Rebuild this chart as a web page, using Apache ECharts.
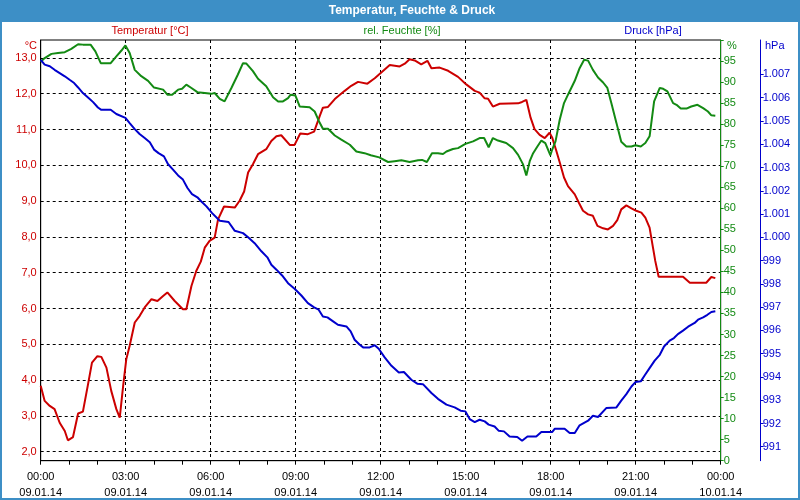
<!DOCTYPE html>
<html>
<head>
<meta charset="utf-8">
<script src="https://cdn.jsdelivr.net/npm/echarts@6/dist/echarts.min.js"></script>
<style>
  html, body { margin: 0; padding: 0; background: #fff; }
  #chart { width: 800px; height: 500px; }
</style>
</head>
<body>
<div id="chart"></div>
<script>
// Stunden seit 09.01.14 00:00
const tempHours = [0, 0.14, 0.32, 0.49, 0.67, 0.85, 0.96, 1.14, 1.32, 1.49, 1.67, 1.81, 2.0, 2.14, 2.32, 2.49, 2.67, 2.79, 2.91, 3.02, 3.14, 3.32, 3.49, 3.67, 3.91, 4.12, 4.32, 4.47, 4.73, 5.02, 5.14, 5.32, 5.49, 5.65, 5.79, 5.96, 6.14, 6.26, 6.47, 6.85, 7.02, 7.18, 7.32, 7.49, 7.67, 7.96, 8.14, 8.32, 8.49, 8.79, 8.96, 9.16, 9.43, 9.65, 9.85, 9.96, 10.14, 10.38, 10.73, 10.96, 11.2, 11.53, 11.79, 12.05, 12.32, 12.67, 12.85, 13.02, 13.2, 13.43, 13.65, 13.79, 14.08, 14.38, 14.73, 15.02, 15.32, 15.49, 15.67, 15.79, 15.96, 16.2, 16.85, 16.99, 17.14, 17.29, 17.43, 17.61, 17.79, 17.96, 18.05, 18.2, 18.32, 18.47, 18.61, 18.85, 18.99, 19.14, 19.32, 19.49, 19.65, 19.85, 20.02, 20.2, 20.35, 20.49, 20.67, 20.85, 21.02, 21.2, 21.34, 21.49, 21.61, 21.69, 21.81, 22.67, 22.91, 23.49, 23.67, 23.81]
const tempValues = [3.84, 3.42, 3.28, 3.19, 2.81, 2.58, 2.32, 2.41, 3.07, 3.12, 3.88, 4.49, 4.67, 4.65, 4.35, 3.70, 3.19, 2.95, 3.84, 4.58, 4.96, 5.61, 5.79, 6.03, 6.26, 6.21, 6.35, 6.45, 6.21, 5.98, 5.98, 6.63, 7.05, 7.31, 7.70, 7.89, 7.98, 8.49, 8.85, 8.82, 9.01, 9.27, 9.80, 10.03, 10.31, 10.45, 10.68, 10.81, 10.84, 10.57, 10.57, 10.89, 10.87, 10.94, 11.38, 11.61, 11.63, 11.85, 12.08, 12.22, 12.33, 12.28, 12.43, 12.61, 12.80, 12.76, 12.84, 12.96, 12.93, 12.82, 12.92, 12.71, 12.73, 12.64, 12.47, 12.26, 12.08, 12.03, 11.87, 11.86, 11.64, 11.72, 11.73, 11.77, 11.83, 11.33, 11.01, 10.85, 10.76, 10.91, 10.78, 10.40, 10.08, 9.66, 9.42, 9.19, 8.96, 8.73, 8.63, 8.59, 8.31, 8.24, 8.21, 8.31, 8.47, 8.77, 8.88, 8.80, 8.73, 8.68, 8.54, 8.26, 7.70, 7.33, 6.89, 6.89, 6.72, 6.72, 6.88, 6.85]

const humHours = [0, 0.14, 0.38, 0.61, 0.85, 1.08, 1.32, 1.49, 1.76, 1.93, 2.12, 2.47, 2.67, 2.85, 2.99, 3.14, 3.32, 3.55, 3.79, 4.0, 4.32, 4.47, 4.64, 4.85, 4.99, 5.14, 5.32, 5.53, 5.79, 6.02, 6.14, 6.32, 6.49, 6.73, 6.96, 7.14, 7.26, 7.49, 7.67, 7.96, 8.2, 8.38, 8.55, 8.73, 8.82, 8.99, 9.14, 9.49, 9.67, 9.82, 9.96, 10.14, 10.38, 10.61, 10.91, 11.14, 11.43, 11.65, 11.95, 12.26, 12.49, 12.73, 13.02, 13.32, 13.46, 13.63, 13.81, 14.02, 14.2, 14.32, 14.55, 14.73, 14.99, 15.26, 15.49, 15.65, 15.81, 15.96, 16.14, 16.43, 16.67, 16.85, 17.02, 17.14, 17.26, 17.38, 17.53, 17.67, 17.81, 17.99, 18.05, 18.17, 18.32, 18.47, 18.61, 18.85, 19.02, 19.18, 19.32, 19.49, 19.67, 19.85, 20.0, 20.14, 20.32, 20.49, 20.67, 20.85, 20.99, 21.18, 21.34, 21.49, 21.65, 21.85, 21.97, 22.12, 22.32, 22.44, 22.59, 22.79, 22.96, 23.18, 23.38, 23.55, 23.67, 23.81]
const humValues = [94.8, 95.7, 96.7, 96.9, 97.1, 97.9, 99.0, 98.9, 98.9, 97.3, 94.5, 94.5, 96.1, 97.5, 98.7, 96.9, 92.9, 91.4, 90.3, 88.7, 88.2, 87.0, 87.0, 88.2, 88.4, 89.4, 88.6, 87.6, 87.4, 87.2, 87.4, 86.0, 85.4, 88.6, 91.8, 94.5, 94.4, 92.6, 90.8, 89.0, 86.4, 85.4, 85.4, 86.2, 87.0, 86.8, 84.2, 84.0, 83.0, 80.7, 78.9, 78.9, 77.3, 76.3, 75.1, 73.5, 73.1, 72.6, 72.1, 71.0, 71.2, 71.4, 71.0, 71.4, 71.5, 71.0, 73.1, 73.1, 72.9, 73.5, 74.1, 74.3, 75.3, 75.9, 76.7, 76.7, 74.5, 76.7, 76.1, 75.5, 74.3, 72.7, 70.5, 67.8, 71.2, 73.1, 74.7, 76.1, 75.5, 72.6, 73.9, 75.9, 81.1, 85.0, 87.0, 90.3, 93.3, 95.3, 95.1, 92.9, 91.1, 89.9, 88.6, 85.0, 80.3, 75.8, 74.7, 74.7, 75.0, 74.7, 75.5, 77.1, 85.4, 88.6, 88.4, 87.8, 85.0, 84.6, 83.7, 83.7, 84.2, 84.6, 83.8, 83.0, 82.1, 82.0]

const presHours = [0, 0.14, 0.32, 0.49, 0.67, 0.85, 1.02, 1.18, 1.32, 1.49, 1.67, 1.85, 2.02, 2.14, 2.47, 2.67, 2.99, 3.14, 3.32, 3.49, 3.67, 3.85, 4.0, 4.16, 4.35, 4.49, 4.67, 4.85, 5.02, 5.18, 5.34, 5.53, 5.67, 5.85, 6.05, 6.32, 6.63, 6.85, 7.14, 7.32, 7.55, 7.79, 8.0, 8.14, 8.32, 8.52, 8.73, 8.96, 9.2, 9.43, 9.65, 9.81, 9.96, 10.12, 10.32, 10.49, 10.79, 10.94, 11.08, 11.26, 11.38, 11.61, 11.79, 11.93, 12.14, 12.38, 12.64, 12.82, 13.08, 13.29, 13.49, 13.79, 14.02, 14.32, 14.61, 14.82, 14.99, 15.14, 15.32, 15.49, 15.67, 15.81, 16.02, 16.16, 16.35, 16.55, 16.82, 16.99, 17.18, 17.49, 17.67, 18.05, 18.14, 18.49, 18.67, 18.85, 19.02, 19.32, 19.49, 19.67, 19.96, 20.32, 20.49, 20.67, 20.85, 20.99, 21.18, 21.32, 21.49, 21.67, 21.85, 22.0, 22.2, 22.35, 22.49, 22.67, 22.85, 23.08, 23.2, 23.38, 23.53, 23.67, 23.81]
const presValues = [1007.63, 1007.42, 1007.35, 1007.20, 1007.06, 1006.92, 1006.77, 1006.63, 1006.44, 1006.20, 1006.01, 1005.81, 1005.58, 1005.48, 1005.48, 1005.30, 1005.13, 1004.91, 1004.65, 1004.44, 1004.27, 1004.09, 1003.77, 1003.62, 1003.48, 1003.15, 1002.91, 1002.66, 1002.48, 1002.12, 1001.86, 1001.72, 1001.54, 1001.33, 1001.04, 1000.71, 1000.66, 1000.28, 1000.18, 1000.0, 999.75, 999.40, 999.14, 998.82, 998.61, 998.36, 998.03, 997.79, 997.50, 997.17, 996.99, 996.89, 996.60, 996.56, 996.39, 996.24, 996.17, 995.96, 995.60, 995.38, 995.27, 995.27, 995.36, 995.21, 994.84, 994.48, 994.19, 994.21, 993.88, 993.71, 993.69, 993.31, 993.06, 992.81, 992.69, 992.55, 992.52, 992.19, 992.06, 992.16, 992.09, 991.95, 991.87, 991.69, 991.66, 991.44, 991.42, 991.26, 991.44, 991.44, 991.63, 991.63, 991.77, 991.77, 991.59, 991.59, 991.92, 992.12, 992.33, 992.28, 992.66, 992.69, 992.98, 993.26, 993.59, 993.78, 993.81, 994.07, 994.38, 994.70, 994.95, 995.31, 995.56, 995.67, 995.84, 995.99, 996.16, 996.32, 996.46, 996.56, 996.67, 996.79, 996.82]

const tempTicks = [2, 3, 4, 5, 6, 7, 8, 9, 10, 11, 12, 13]
const presTicks = [991, 992, 993, 994, 995, 996, 997, 998, 999, 1000, 1001, 1002, 1003, 1004, 1005, 1006, 1007]

const RED = '#cc0000'
const GREEN = '#138a13'
const BLUE = '#0000cc'
const BAR = '#3d8fc6'
const FONT = 'Liberation Sans'

function pairs(xs, ys) {
  return xs.map((x, i) => [x, ys[i]])
}

function fmtHour(v) {
  const h = v % 24
  const day = v < 24 ? '09.01.14' : '10.01.14'
  return (h < 10 ? '0' : '') + h + ':00\n' + day
}

function fmtPres(v) {
  if (v >= 1000) return '1.' + String(v - 1000).padStart(3, '0')
  return String(v)
}

const chart = echarts.init(document.getElementById('chart'), null, { renderer: 'canvas' })

chart.setOption({
  animation: false,
  backgroundColor: '#fff',
  textStyle: { fontFamily: FONT },
  grid: {
    left: 40.7,
    right: 79.3,
    top: 40,
    bottom: 39.3,
    show: true,
    borderColor: '#000',
    borderWidth: 1,
    outerBoundsMode: 'none'
  },
  graphic: [
    { type: 'rect', shape: { x: 0, y: 0, width: 800, height: 22 }, style: { fill: BAR }, silent: true },
    { type: 'rect', shape: { x: 1, y: 1, width: 798, height: 498 }, style: { fill: 'none', stroke: BAR, lineWidth: 2 }, silent: true },
    {
      type: 'text', x: 412, y: 11,
      style: { text: 'Temperatur, Feuchte & Druck', fill: '#fff', font: 'bold 12px ' + FONT, align: 'center', verticalAlign: 'middle' }
    },
    { type: 'text', x: 150, y: 31, style: { text: 'Temperatur [°C]', fill: RED, font: '11px ' + FONT, align: 'center', verticalAlign: 'middle' } },
    { type: 'text', x: 402, y: 31, style: { text: 'rel. Feuchte [%]', fill: GREEN, font: '11px ' + FONT, align: 'center', verticalAlign: 'middle' } },
    { type: 'text', x: 653, y: 31, style: { text: 'Druck [hPa]', fill: BLUE, font: '11px ' + FONT, align: 'center', verticalAlign: 'middle' } },
    { type: 'text', x: 37, y: 46, style: { text: '°C', fill: RED, font: '11px ' + FONT, align: 'right', verticalAlign: 'middle' } },
    { type: 'text', x: 727, y: 46, style: { text: '%', fill: GREEN, font: '11px ' + FONT, align: 'left', verticalAlign: 'middle' } },
    { type: 'text', x: 765, y: 46, style: { text: 'hPa', fill: BLUE, font: '11px ' + FONT, align: 'left', verticalAlign: 'middle' } }
  ],
  xAxis: {
    type: 'value',
    min: 0,
    max: 24,
    interval: 3,
    axisLine: { lineStyle: { color: '#000', width: 1 } },
    axisTick: { show: true, length: 4, lineStyle: { color: '#000' } },
    minorTick: { show: true, splitNumber: 3, length: 4, lineStyle: { color: '#000' } },
    splitLine: { show: true, lineStyle: { color: '#000', type: [3, 3], width: 1 } },
    axisLabel: {
      formatter: fmtHour,
      color: '#000',
      fontSize: 11,
      lineHeight: 16,
      margin: 8,
      showMinLabel: true,
      showMaxLabel: true
    }
  },
  yAxis: [
    {
      type: 'value',
      position: 'left',
      min: 1.75,
      max: 13.5,
      axisLine: { show: true, lineStyle: { color: '#000', width: 1 } },
      axisTick: { show: false, customValues: tempTicks },
      splitLine: { show: true, lineStyle: { color: '#000', type: [3, 3], width: 1 } },
      axisLabel: {
        customValues: tempTicks,
        formatter: (v) => v.toFixed(1).replace('.', ','),
        color: RED,
        fontSize: 11,
        margin: 4
      }
    },
    {
      type: 'value',
      position: 'right',
      min: 0,
      max: 100,
      interval: 5,
      axisLine: { show: true, lineStyle: { color: GREEN, width: 1 } },
      axisTick: { show: true, length: 3, lineStyle: { color: GREEN } },
      splitLine: { show: false },
      axisLabel: {
        formatter: (v) => (v >= 100 ? '' : String(v)),
        color: GREEN,
        fontSize: 11,
        margin: 3
      }
    },
    {
      type: 'value',
      position: 'right',
      offset: 40,
      min: 990.4,
      max: 1008.48,
      axisLine: { show: true, lineStyle: { color: BLUE, width: 1 } },
      axisTick: { show: true, length: 3, customValues: presTicks, lineStyle: { color: BLUE } },
      splitLine: { show: false },
      axisLabel: {
        customValues: presTicks,
        formatter: fmtPres,
        color: BLUE,
        fontSize: 11,
        margin: 2
      }
    }
  ],
  series: [
    {
      name: 'Temperatur [°C]',
      type: 'line',
      yAxisIndex: 0,
      showSymbol: false,
      lineStyle: { color: RED, width: 2 },
      itemStyle: { color: RED },
      data: pairs(tempHours, tempValues)
    },
    {
      name: 'rel. Feuchte [%]',
      type: 'line',
      yAxisIndex: 1,
      showSymbol: false,
      lineStyle: { color: GREEN, width: 2 },
      itemStyle: { color: GREEN },
      data: pairs(humHours, humValues)
    },
    {
      name: 'Druck [hPa]',
      type: 'line',
      yAxisIndex: 2,
      showSymbol: false,
      lineStyle: { color: BLUE, width: 2 },
      itemStyle: { color: BLUE },
      data: pairs(presHours, presValues)
    }
  ]
})

window.addEventListener('resize', () => {
  chart.resize()
})
</script>
</body>
</html>
